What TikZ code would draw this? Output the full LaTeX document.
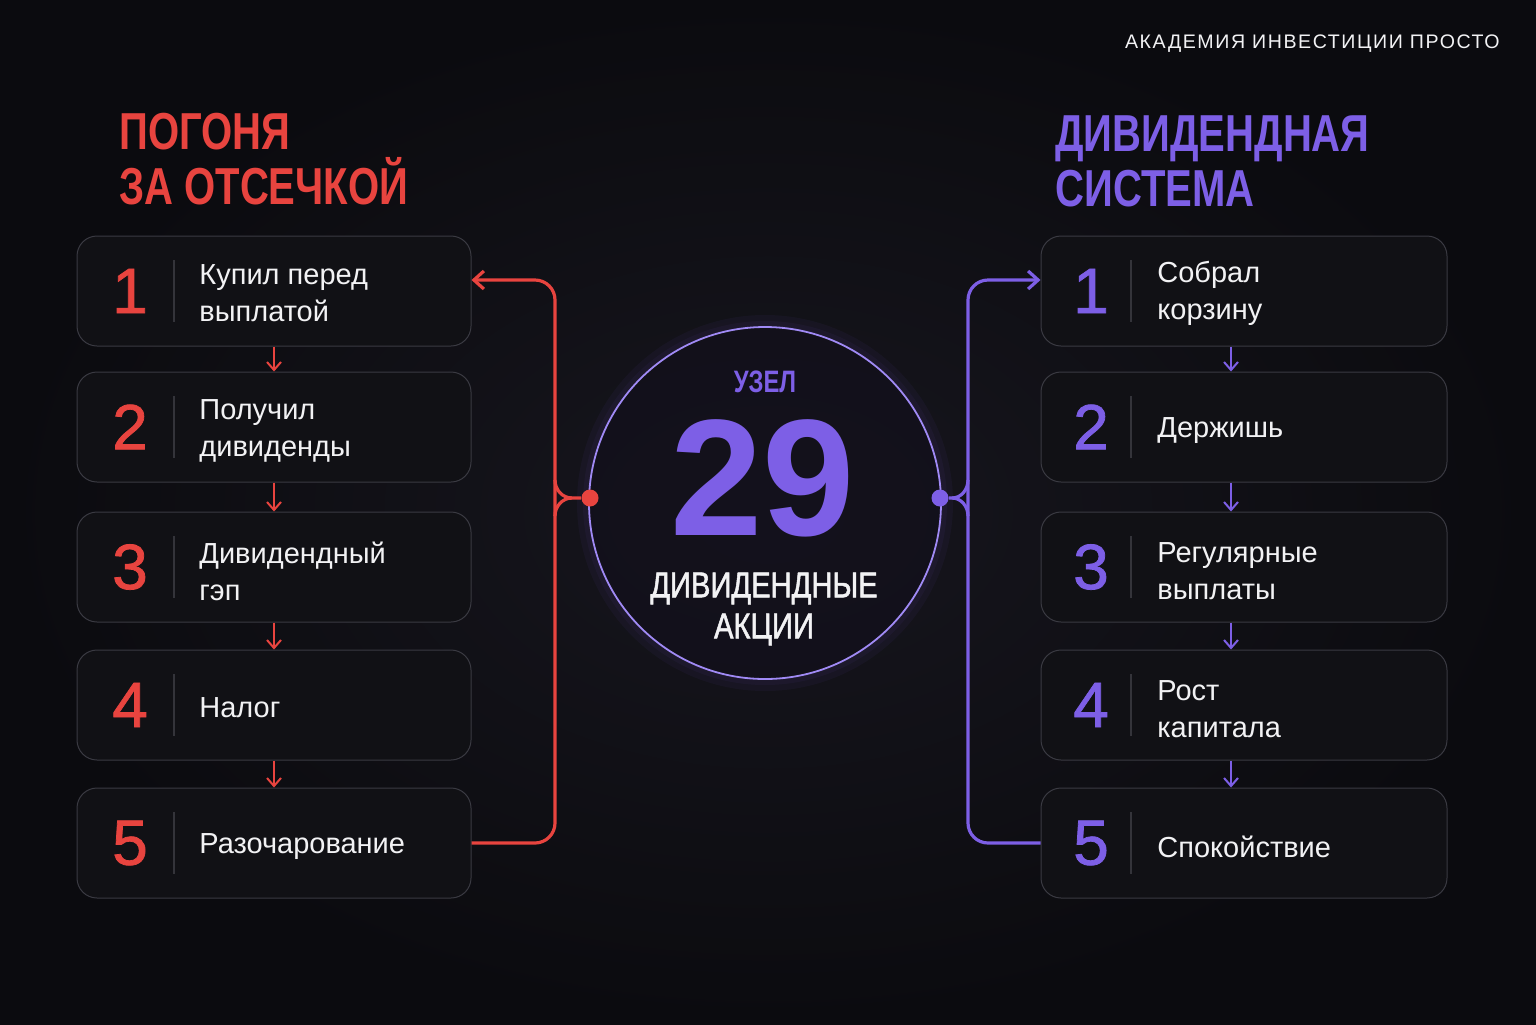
\documentclass[tikz,border=0pt]{standalone}
\usepackage{fontspec}
\setmainfont{Liberation Sans}
\newfontfamily\headfont[FakeStretch=0.77]{Liberation Sans}
\newfontfamily\hubfont[FakeStretch=0.81, FakeBold=1.4]{Liberation Sans}
\newfontfamily\numfont[FakeBold=1.2]{Liberation Sans}
\newfontfamily\tagfont[LetterSpace=8]{Liberation Sans}
\usetikzlibrary{arrows.meta}

\definecolor{bgdark}{HTML}{0B0B0F}
\definecolor{bglight}{HTML}{17161E}
\definecolor{boxfill}{HTML}{111115}
\definecolor{boxedge}{HTML}{3A3A42}
\definecolor{splitline}{HTML}{34343A}
\definecolor{chasered}{HTML}{E8443F}
\definecolor{sysviolet}{HTML}{7D5FE6}
\definecolor{ringviolet}{HTML}{A08AF5}
\definecolor{softwhite}{HTML}{F2F2F4}

\begin{document}
\begin{tikzpicture}[x=0.5pt,y=-0.5pt]
\tikzstyle{stepbox}=[draw=boxedge, fill=boxfill, rounded corners=10pt, minimum height=55pt, line width=0.5pt, inner sep=0pt]
\tikzstyle{num}=[font=\numfont\fontsize{32}{32}\selectfont, inner sep=0pt]
\tikzstyle{steptext}=[font=\fontsize{14.5}{18.5}\selectfont, text=softwhite, align=left, anchor=west, inner sep=0pt]
\tikzstyle{divider}=[draw=splitline, line width=0.6pt]
\tikzstyle{redflow}=[draw=chasered, line width=1.6pt]
\tikzstyle{violetflow}=[draw=sysviolet, line width=1.6pt]
\tikzstyle{reddown}=[draw=chasered, line width=1pt, -{Straight Barb[length=4pt,width=7pt]}]
\tikzstyle{violetdown}=[draw=sysviolet, line width=1pt, -{Straight Barb[length=4pt,width=7pt]}]
\tikzstyle{headline}=[font=\headfont\bfseries\fontsize{26}{27.5}\selectfont, align=left, anchor=north west, inner sep=0pt]

% background
\shade[inner color=bglight, outer color=bgdark] (0,0) rectangle (1536,1024);

% top tag and titles
\draw (1500,48) node[anchor=base east, inner sep=0pt, text=softwhite, font=\tagfont\fontsize{9.8}{10}\selectfont] (tag) {АКАДЕМИЯ ИНВЕСТИЦИИ ПРОСТО};
\draw (119,113) node[headline, text=chasered] (chasetitle) {ПОГОНЯ\\ЗА ОТСЕЧКОЙ};
\draw (1055,115) node[headline, text=sysviolet] (systitle) {ДИВИДЕНДНАЯ\\СИСТЕМА};

% left column
\draw (274,291) node[stepbox, minimum width=197pt] (r1) {};
\draw (274,427) node[stepbox, minimum width=197pt] (r2) {};
\draw (274,567) node[stepbox, minimum width=197pt] (r3) {};
\draw (274,705) node[stepbox, minimum width=197pt] (r4) {};
\draw (274,843) node[stepbox, minimum width=197pt] (r5) {};

\draw (130,291) node[num, text=chasered] (rn1) {1};
\draw (130,427) node[num, text=chasered] (rn2) {2};
\draw (130,567) node[num, text=chasered] (rn3) {3};
\draw (130,705) node[num, text=chasered] (rn4) {4};
\draw (130,843) node[num, text=chasered] (rn5) {5};

\draw[divider] (174,260) -- (174,322);
\draw[divider] (174,396) -- (174,458);
\draw[divider] (174,536) -- (174,598);
\draw[divider] (174,674) -- (174,736);
\draw[divider] (174,812) -- (174,874);

\draw (199,293) node[steptext] (rt1) {Купил перед\\выплатой};
\draw (199,431) node[steptext] (rt2) {Получил\\дивиденды};
\draw (199,571) node[steptext] (rt3) {Дивидендный\\гэп};
\draw (199,708) node[steptext] (rt4) {Налог};
\draw (199,847) node[steptext] (rt5) {Разочарование};

\draw[reddown] (r1.south) -- (r2.north);
\draw[reddown] (r2.south) -- (r3.north);
\draw[reddown] (r3.south) -- (r4.north);
\draw[reddown] (r4.south) -- (r5.north);

% right column
\draw (1244,291) node[stepbox, minimum width=203pt] (s1) {};
\draw (1244,427) node[stepbox, minimum width=203pt] (s2) {};
\draw (1244,567) node[stepbox, minimum width=203pt] (s3) {};
\draw (1244,705) node[stepbox, minimum width=203pt] (s4) {};
\draw (1244,843) node[stepbox, minimum width=203pt] (s5) {};

\draw (1091,291) node[num, text=sysviolet] (sn1) {1};
\draw (1091,427) node[num, text=sysviolet] (sn2) {2};
\draw (1091,567) node[num, text=sysviolet] (sn3) {3};
\draw (1091,705) node[num, text=sysviolet] (sn4) {4};
\draw (1091,843) node[num, text=sysviolet] (sn5) {5};

\draw[divider] (1131,260) -- (1131,322);
\draw[divider] (1131,396) -- (1131,458);
\draw[divider] (1131,536) -- (1131,598);
\draw[divider] (1131,674) -- (1131,736);
\draw[divider] (1131,812) -- (1131,874);

\draw (1157,293) node[steptext] (st1) {Собрал\\корзину};
\draw (1157,431) node[steptext] (st2) {Держишь};
\draw (1157,571) node[steptext] (st3) {Регулярные\\выплаты};
\draw (1157,709) node[steptext] (st4) {Рост\\капитала};
\draw (1157,847) node[steptext] (st5) {Спокойствие};

\draw[violetdown] ([xshift=-6.5pt]s1.south) -- ([xshift=-6.5pt]s2.north);
\draw[violetdown] ([xshift=-6.5pt]s2.south) -- ([xshift=-6.5pt]s3.north);
\draw[violetdown] ([xshift=-6.5pt]s3.south) -- ([xshift=-6.5pt]s4.north);
\draw[violetdown] ([xshift=-6.5pt]s4.south) -- ([xshift=-6.5pt]s5.north);

% hub
\fill[sysviolet, opacity=0.05] (765,503) circle (94pt);
\fill[sysviolet, opacity=0.05] (765,503) circle (91pt);
\draw (765,503) node[circle, draw=ringviolet, line width=0.9pt, fill=bgdark, fill opacity=0.6, minimum size=176pt, inner sep=0pt] (hub) {};
\draw (765,382) node[inner sep=0pt, text=sysviolet, font=\headfont\bfseries\fontsize{15.5}{15.5}\selectfont] (hubtag) {УЗЕЛ};
\draw (763,478) node[inner sep=0pt, text=sysviolet, font=\bfseries\fontsize{83}{83}\selectfont] (hubnum) {29};
\draw (764,609) node[inner sep=0pt, text=softwhite, align=center, font=\hubfont\fontsize{18}{20.5}\selectfont] (hubname) {ДИВИДЕНДНЫЕ\\АКЦИИ};

\draw (590,498) node[circle, fill=chasered, inner sep=0pt, minimum size=8.5pt] (rdot) {};
\draw (940,498) node[circle, fill=sysviolet, inner sep=0pt, minimum size=8.5pt] (vdot) {};

% loops back to step 1
\draw[redflow, rounded corners=10pt, -{Straight Barb[length=5pt,width=9pt]}] (r5.east) -- (555,843) -- (555,280) -- ([yshift=5.5pt]r1.east);
\draw[redflow] (rdot.west) -- (572,498) to[out=180,in=-90] (555,480);
\draw[redflow] (572,498) to[out=180,in=90] (555,516);

\draw[violetflow, rounded corners=10pt, -{Straight Barb[length=5pt,width=9pt]}] (s5.west) -- (968,843) -- (968,280) -- ([yshift=5.5pt]s1.west);
\draw[violetflow] (vdot.east) -- (952,498) to[out=0,in=-90] (968,480);
\draw[violetflow] (952,498) to[out=0,in=90] (968,516);
\end{tikzpicture}
\end{document}
